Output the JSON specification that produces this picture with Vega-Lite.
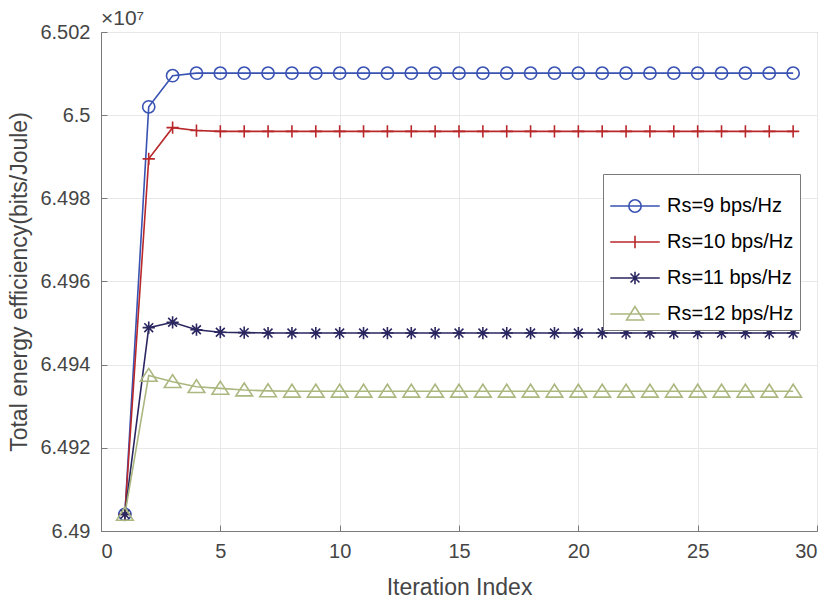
{
  "$schema": "https://vega.github.io/schema/vega-lite/v6.json",
  "width": 716,
  "height": 499,
  "autosize": "none",
  "padding": {"left": 101, "top": 32, "right": 15, "bottom": 70},
  "background": "white",
  "config": {
    "font": "Liberation Sans",
    "view": {"stroke": "#7a7a7a", "strokeWidth": 1},
    "axis": {
      "domainColor": "#7a7a7a",
      "tickColor": "#7a7a7a",
      "tickSize": -6,
      "gridColor": "#e8e8e8",
      "labelColor": "#454545",
      "titleColor": "#454545",
      "labelFontSize": 20,
      "titleFontSize": 23,
      "titleFontWeight": "normal",
      "labelFont": "Liberation Sans",
      "titleFont": "Liberation Sans"
    }
  },
  "title": {
    "text": "×10⁷",
    "anchor": "start",
    "frame": "group",
    "fontSize": 21,
    "fontWeight": "normal",
    "font": "Liberation Sans",
    "color": "#454545",
    "offset": -7,
    "dx": 0
  },
  "data": {"values": [
    {"it":1,"s":"Rs=9 bps/Hz","v":6.4904},{"it":2,"s":"Rs=9 bps/Hz","v":6.50020},{"it":3,"s":"Rs=9 bps/Hz","v":6.50095},{"it":4,"s":"Rs=9 bps/Hz","v":6.50101},
    {"it":5,"s":"Rs=9 bps/Hz","v":6.50101},{"it":6,"s":"Rs=9 bps/Hz","v":6.50101},{"it":7,"s":"Rs=9 bps/Hz","v":6.50101},{"it":8,"s":"Rs=9 bps/Hz","v":6.50101},
    {"it":9,"s":"Rs=9 bps/Hz","v":6.50101},{"it":10,"s":"Rs=9 bps/Hz","v":6.50101},{"it":11,"s":"Rs=9 bps/Hz","v":6.50101},{"it":12,"s":"Rs=9 bps/Hz","v":6.50101},
    {"it":13,"s":"Rs=9 bps/Hz","v":6.50101},{"it":14,"s":"Rs=9 bps/Hz","v":6.50101},{"it":15,"s":"Rs=9 bps/Hz","v":6.50101},{"it":16,"s":"Rs=9 bps/Hz","v":6.50101},
    {"it":17,"s":"Rs=9 bps/Hz","v":6.50101},{"it":18,"s":"Rs=9 bps/Hz","v":6.50101},{"it":19,"s":"Rs=9 bps/Hz","v":6.50101},{"it":20,"s":"Rs=9 bps/Hz","v":6.50101},
    {"it":21,"s":"Rs=9 bps/Hz","v":6.50101},{"it":22,"s":"Rs=9 bps/Hz","v":6.50101},{"it":23,"s":"Rs=9 bps/Hz","v":6.50101},{"it":24,"s":"Rs=9 bps/Hz","v":6.50101},
    {"it":25,"s":"Rs=9 bps/Hz","v":6.50101},{"it":26,"s":"Rs=9 bps/Hz","v":6.50101},{"it":27,"s":"Rs=9 bps/Hz","v":6.50101},{"it":28,"s":"Rs=9 bps/Hz","v":6.50101},
    {"it":29,"s":"Rs=9 bps/Hz","v":6.50101},
    {"it":1,"s":"Rs=10 bps/Hz","v":6.4904},{"it":2,"s":"Rs=10 bps/Hz","v":6.49895},{"it":3,"s":"Rs=10 bps/Hz","v":6.49970},{"it":4,"s":"Rs=10 bps/Hz","v":6.49963},
    {"it":5,"s":"Rs=10 bps/Hz","v":6.49961},{"it":6,"s":"Rs=10 bps/Hz","v":6.49961},{"it":7,"s":"Rs=10 bps/Hz","v":6.49961},{"it":8,"s":"Rs=10 bps/Hz","v":6.49961},
    {"it":9,"s":"Rs=10 bps/Hz","v":6.49961},{"it":10,"s":"Rs=10 bps/Hz","v":6.49961},{"it":11,"s":"Rs=10 bps/Hz","v":6.49961},{"it":12,"s":"Rs=10 bps/Hz","v":6.49961},
    {"it":13,"s":"Rs=10 bps/Hz","v":6.49961},{"it":14,"s":"Rs=10 bps/Hz","v":6.49961},{"it":15,"s":"Rs=10 bps/Hz","v":6.49961},{"it":16,"s":"Rs=10 bps/Hz","v":6.49961},
    {"it":17,"s":"Rs=10 bps/Hz","v":6.49961},{"it":18,"s":"Rs=10 bps/Hz","v":6.49961},{"it":19,"s":"Rs=10 bps/Hz","v":6.49961},{"it":20,"s":"Rs=10 bps/Hz","v":6.49961},
    {"it":21,"s":"Rs=10 bps/Hz","v":6.49961},{"it":22,"s":"Rs=10 bps/Hz","v":6.49961},{"it":23,"s":"Rs=10 bps/Hz","v":6.49961},{"it":24,"s":"Rs=10 bps/Hz","v":6.49961},
    {"it":25,"s":"Rs=10 bps/Hz","v":6.49961},{"it":26,"s":"Rs=10 bps/Hz","v":6.49961},{"it":27,"s":"Rs=10 bps/Hz","v":6.49961},{"it":28,"s":"Rs=10 bps/Hz","v":6.49961},
    {"it":29,"s":"Rs=10 bps/Hz","v":6.49961},
    {"it":1,"s":"Rs=11 bps/Hz","v":6.4904},{"it":2,"s":"Rs=11 bps/Hz","v":6.49489},{"it":3,"s":"Rs=11 bps/Hz","v":6.49502},{"it":4,"s":"Rs=11 bps/Hz","v":6.49484},
    {"it":5,"s":"Rs=11 bps/Hz","v":6.49478},{"it":6,"s":"Rs=11 bps/Hz","v":6.49477},{"it":7,"s":"Rs=11 bps/Hz","v":6.49476},{"it":8,"s":"Rs=11 bps/Hz","v":6.49476},
    {"it":9,"s":"Rs=11 bps/Hz","v":6.49476},{"it":10,"s":"Rs=11 bps/Hz","v":6.49476},{"it":11,"s":"Rs=11 bps/Hz","v":6.49476},{"it":12,"s":"Rs=11 bps/Hz","v":6.49476},
    {"it":13,"s":"Rs=11 bps/Hz","v":6.49476},{"it":14,"s":"Rs=11 bps/Hz","v":6.49476},{"it":15,"s":"Rs=11 bps/Hz","v":6.49476},{"it":16,"s":"Rs=11 bps/Hz","v":6.49476},
    {"it":17,"s":"Rs=11 bps/Hz","v":6.49476},{"it":18,"s":"Rs=11 bps/Hz","v":6.49476},{"it":19,"s":"Rs=11 bps/Hz","v":6.49476},{"it":20,"s":"Rs=11 bps/Hz","v":6.49476},
    {"it":21,"s":"Rs=11 bps/Hz","v":6.49476},{"it":22,"s":"Rs=11 bps/Hz","v":6.49476},{"it":23,"s":"Rs=11 bps/Hz","v":6.49476},{"it":24,"s":"Rs=11 bps/Hz","v":6.49476},
    {"it":25,"s":"Rs=11 bps/Hz","v":6.49476},{"it":26,"s":"Rs=11 bps/Hz","v":6.49476},{"it":27,"s":"Rs=11 bps/Hz","v":6.49476},{"it":28,"s":"Rs=11 bps/Hz","v":6.49476},
    {"it":29,"s":"Rs=11 bps/Hz","v":6.49476},
    {"it":1,"s":"Rs=12 bps/Hz","v":6.4904},{"it":2,"s":"Rs=12 bps/Hz","v":6.49374},{"it":3,"s":"Rs=12 bps/Hz","v":6.49359},{"it":4,"s":"Rs=12 bps/Hz","v":6.49347},
    {"it":5,"s":"Rs=12 bps/Hz","v":6.49343},{"it":6,"s":"Rs=12 bps/Hz","v":6.49339},{"it":7,"s":"Rs=12 bps/Hz","v":6.49337},{"it":8,"s":"Rs=12 bps/Hz","v":6.49336},
    {"it":9,"s":"Rs=12 bps/Hz","v":6.49336},{"it":10,"s":"Rs=12 bps/Hz","v":6.49336},{"it":11,"s":"Rs=12 bps/Hz","v":6.49336},{"it":12,"s":"Rs=12 bps/Hz","v":6.49336},
    {"it":13,"s":"Rs=12 bps/Hz","v":6.49336},{"it":14,"s":"Rs=12 bps/Hz","v":6.49336},{"it":15,"s":"Rs=12 bps/Hz","v":6.49336},{"it":16,"s":"Rs=12 bps/Hz","v":6.49336},
    {"it":17,"s":"Rs=12 bps/Hz","v":6.49336},{"it":18,"s":"Rs=12 bps/Hz","v":6.49336},{"it":19,"s":"Rs=12 bps/Hz","v":6.49336},{"it":20,"s":"Rs=12 bps/Hz","v":6.49336},
    {"it":21,"s":"Rs=12 bps/Hz","v":6.49336},{"it":22,"s":"Rs=12 bps/Hz","v":6.49336},{"it":23,"s":"Rs=12 bps/Hz","v":6.49336},{"it":24,"s":"Rs=12 bps/Hz","v":6.49336},
    {"it":25,"s":"Rs=12 bps/Hz","v":6.49336},{"it":26,"s":"Rs=12 bps/Hz","v":6.49336},{"it":27,"s":"Rs=12 bps/Hz","v":6.49336},{"it":28,"s":"Rs=12 bps/Hz","v":6.49336},
    {"it":29,"s":"Rs=12 bps/Hz","v":6.49336}
  ]},
  "encoding": {
    "x": {
      "field": "it", "type": "quantitative",
      "scale": {"domain": [0, 30], "nice": false},
      "axis": {"values": [0, 5, 10, 15, 20, 25, 30], "title": "Iteration Index", "labelPadding": 16, "titlePadding": 15}
    },
    "y": {
      "field": "v", "type": "quantitative",
      "scale": {"domain": [6.49, 6.502], "nice": false, "zero": false},
      "axis": {"values": [6.49, 6.492, 6.494, 6.496, 6.498, 6.5, 6.502], "format": "~g", "title": "Total energy efficiency(bits/Joule)", "labelPadding": 17, "titlePadding": 8}
    }
  },
  "layer": [
    {
      "mark": {"type": "line", "strokeWidth": 1.6},
      "encoding": {
        "color": {
          "field": "s", "type": "nominal", "sort": null,
          "scale": {"domain": ["Rs=9 bps/Hz", "Rs=10 bps/Hz", "Rs=11 bps/Hz", "Rs=12 bps/Hz"], "range": ["#3953b3", "#b8282b", "#2a2760", "#aab77f"]},
          "legend": {
            "title": null,
            "orient": "none",
            "legendX": 502,
            "legendY": 142,
            "padding": 6,
            "rowPadding": -8.5,
            "labelFontSize": 20,
            "labelColor": "#000000",
            "labelFont": "Liberation Sans",
            "labelOffset": 6,
            "strokeColor": "#7a7a7a",
            "fillColor": "white",
            "symbolSize": 2450,
            "symbolStrokeWidth": 1.6,
            "encode": {
              "symbols": {
                "update": {
                  "shape": {"signal": "datum.value === 'Rs=9 bps/Hz' ? 'M-1,0H1M0.25,0A0.25,0.25 0 1,1 -0.25,0A0.25,0.25 0 1,1 0.25,0' : datum.value === 'Rs=10 bps/Hz' ? 'M-1,0H1M0,-0.25V0.25' : datum.value === 'Rs=11 bps/Hz' ? 'M-1,0H1M0,-0.25V0.25M-0.18,-0.18L0.18,0.18M-0.18,0.18L0.18,-0.18' : 'M-1,0H1M0,-0.3L0.34,0.24H-0.34Z'"},
                  "fill": {"value": "transparent"},
                  "size": {"value": 2450},
                  "strokeWidth": {"value": 1.6}
                }
              }
            }
          }
        }
      }
    },
    {
      "transform": [{"filter": "datum.s === 'Rs=9 bps/Hz'"}],
      "mark": {"type": "point", "shape": "circle", "filled": false, "size": 150, "strokeWidth": 1.6, "opacity": 1, "color": "#3953b3"},
      "encoding": {}
    },
    {
      "transform": [{"filter": "datum.s === 'Rs=10 bps/Hz'"}],
      "mark": {"type": "point", "shape": "M-1,0H1M0,-1V1", "filled": false, "size": 150, "strokeWidth": 1.6, "opacity": 1, "color": "#b8282b"},
      "encoding": {}
    },
    {
      "transform": [{"filter": "datum.s === 'Rs=11 bps/Hz'"}],
      "mark": {"type": "point", "shape": "M-1,0H1M0,-1V1M-0.72,-0.72L0.72,0.72M-0.72,0.72L0.72,-0.72", "filled": false, "size": 150, "strokeWidth": 1.6, "opacity": 1, "color": "#2a2760"},
      "encoding": {}
    },
    {
      "transform": [{"filter": "datum.s === 'Rs=12 bps/Hz'"}],
      "mark": {"type": "point", "shape": "M0,-1.15L1.36,0.95L-1.36,0.95Z", "filled": false, "size": 150, "strokeWidth": 1.6, "opacity": 1, "color": "#aab77f"},
      "encoding": {}
    }
  ]
}
